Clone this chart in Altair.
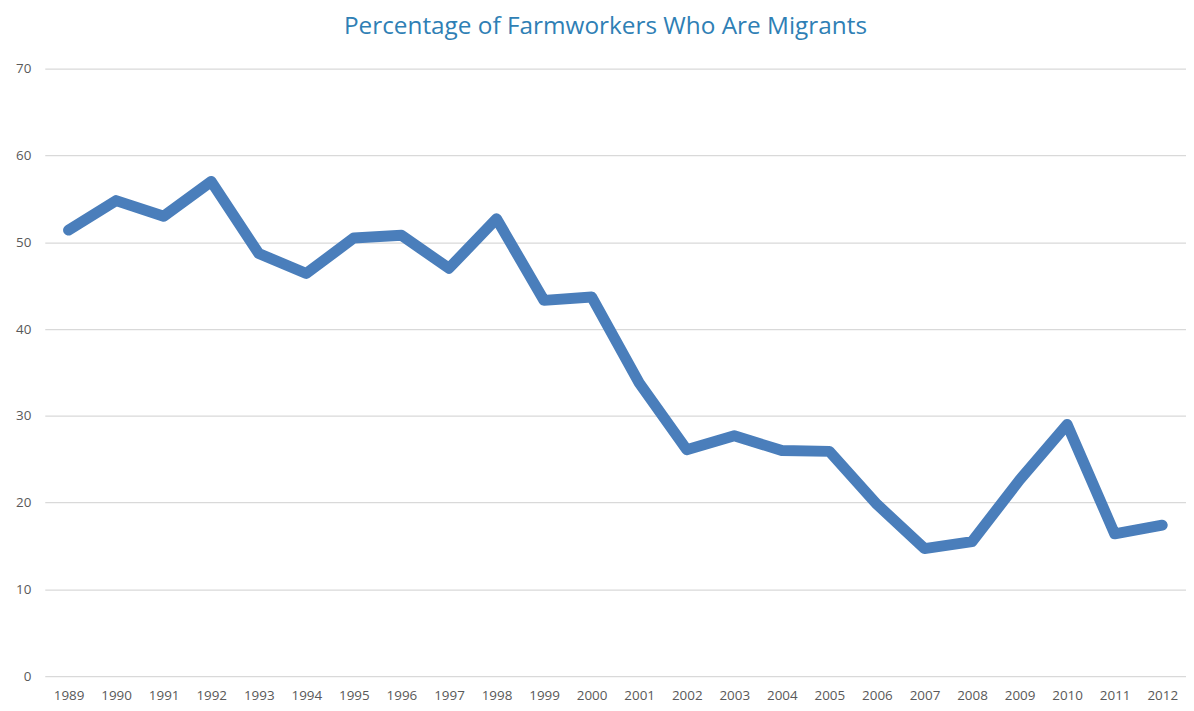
import altair as alt
import pandas as pd

years = [str(y) for y in range(1989, 2013)]
values = [51.4, 54.8, 53.0, 57.0, 48.7, 46.4, 50.5, 50.8, 47.0, 52.7, 43.3, 43.7,
          33.8, 26.1, 27.7, 26.0, 25.9, 19.8, 14.7, 15.5, 22.6, 29.0, 16.4, 17.4]

df = pd.DataFrame({"year": years, "pct": values})

chart = alt.Chart(df).mark_line(
    color="#4a7ebb", strokeWidth=11, strokeJoin="round", strokeCap="round"
).encode(
    x=alt.X("year:N", sort=None, title=None,
            scale=alt.Scale(type="point", padding=0.5),
            axis=alt.Axis(labelAngle=0, ticks=False, domain=False, grid=False,
                          labelPadding=13, labelFontSize=13.5, labelColor="#595959",
                          labelFont="Open Sans")),
    y=alt.Y("pct:Q", title=None,
            scale=alt.Scale(domain=[0, 70]),
            axis=alt.Axis(values=list(range(0, 71, 10)), ticks=False, domain=False,
                          gridColor="#d9d9d9", gridWidth=1.2, labelPadding=14,
                          labelFontSize=13.5, labelColor="#595959", labelFont="Open Sans")),
).properties(
    width=1148, height=611,
    title=alt.TitleParams("Percentage of Farmworkers Who Are Migrants", fontSize=24.5,
                          font="Open Sans", fontWeight="normal", color="#2f7fb5",
                          offset=22, anchor="middle", dx=-10),
    autosize=alt.AutoSizeParams(type="none"),
    padding={"left": 37, "top": 59, "right": 0, "bottom": 30},
).configure_view(stroke=None)

chart.save("out.html", embed_options={"renderer": "svg", "actions": False})
